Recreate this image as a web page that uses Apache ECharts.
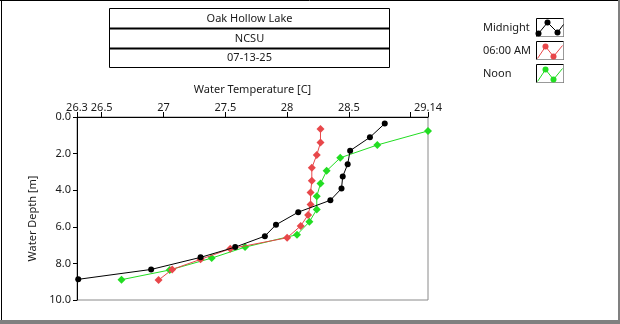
<!DOCTYPE html>
<html>
<head>
<meta charset="utf-8">
<script src="https://cdn.jsdelivr.net/npm/echarts@6/dist/echarts.min.js"></script>
<style>
html,body{margin:0;padding:0;background:#fff;}
#c{width:620px;height:324px;}
</style>
</head>
<body>
<div id="c"></div>
<script>
// ---- data ----
var titleLines = ['Oak Hollow Lake', 'NCSU', '07-13-25'];
var seriesNames = ['Midnight', '06:00 AM', 'Noon'];

var midnightTemp  = [28.79, 28.67, 28.51, 28.49, 28.45, 28.44, 28.35, 28.09, 27.91, 27.82, 27.58, 27.30, 26.90, 26.31];
var midnightDepth = [0.36, 1.11, 1.84, 2.58, 3.25, 3.91, 4.55, 5.20, 5.89, 6.51, 7.11, 7.67, 8.33, 8.87];

var sixAmTemp  = [28.27, 28.27, 28.24, 28.20, 28.20, 28.19, 28.19, 28.17, 28.11, 28.00, 27.54, 27.30, 27.07, 26.96];
var sixAmDepth = [0.65, 1.40, 2.07, 2.78, 3.49, 4.13, 4.78, 5.35, 5.95, 6.60, 7.20, 7.78, 8.33, 8.91];

var noonTemp  = [29.14, 28.73, 28.43, 28.32, 28.27, 28.24, 28.24, 28.18, 28.08, 27.66, 27.39, 27.05, 26.66];
var noonDepth = [0.76, 1.53, 2.23, 2.94, 3.64, 4.33, 5.05, 5.73, 6.43, 7.11, 7.71, 8.36, 8.89];

var tempTickValues  = [26.3, 26.5, 27, 27.5, 28, 28.5, 29, 29.14];
var tempLabelValues = [26.3, 26.5, 27, 27.5, 28, 28.5, 29.14];
var depthMin = 0, depthMax = 10, depthStep = 2;
var tempMin = 26.3, tempMax = 29.14;

// ---- build ----
function pairs(t, d) { return t.map(function (v, i) { return [v, d[i]]; }); }
var FONT = 'Noto Sans';
var FS = 11;
var colors = ['#000000', '#e8474a', '#22dd22'];
var txt = '#1a1a1a';

var chart = echarts.init(document.getElementById('c'), null, {renderer: 'canvas'});

var graphics = [];
// outer frame
graphics.push({type: 'line', shape: {x1: 1.5, y1: 0, x2: 1.5, y2: 321}, style: {stroke: '#000', lineWidth: 1}});
graphics.push({type: 'line', shape: {x1: 0, y1: 0.5, x2: 619, y2: 0.5}, style: {stroke: '#000', lineWidth: 1}});
graphics.push({type: 'rect', shape: {x: 618, y: 0, width: 2, height: 324}, style: {fill: '#808080'}});
graphics.push({type: 'rect', shape: {x: 0, y: 320, width: 620, height: 4}, style: {fill: '#808080'}});

// title boxes
var rows = [[8, 28], [28, 48], [48, 67]];
rows.forEach(function (r, i) {
  graphics.push({type: 'rect', shape: {x: 109.5, y: r[0] + 0.5, width: 280, height: r[1] - r[0]},
    style: {fill: 'none', stroke: '#000', lineWidth: 1}});
  graphics.push({type: 'text', x: 249.5, y: (r[0] + r[1]) / 2 + 0.5,
    style: {text: titleLines[i], font: FS + 'px "' + FONT + '"', fill: txt, align: 'center', verticalAlign: 'middle'}});
});
graphics.push({type: 'line', shape: {x1: 109, y1: 28.5, x2: 390, y2: 28.5}, style: {stroke: '#000', lineWidth: 2}});
graphics.push({type: 'line', shape: {x1: 109, y1: 48.5, x2: 390, y2: 48.5}, style: {stroke: '#000', lineWidth: 2}});

// legend
var legY = [28, 51, 74];
var zig = [
  [[2, 15], [11, 4], [21, 14], [27, 6]],
  [[1, 17], [9, 5], [17, 15], [26, 4]],
  [[1, 17], [9, 5], [17, 15], [26, 4]]
];
var mk = [[0, 1, 2], [1, 2], [1, 2]];
seriesNames.forEach(function (n, i) {
  graphics.push({type: 'text', x: 483, y: legY[i],
    style: {text: n, font: FS + 'px "' + FONT + '"', fill: txt, align: 'left', verticalAlign: 'middle'}});
  var bx = 536.5, by = legY[i] - 9.5;
  graphics.push({type: 'rect', shape: {x: bx, y: by, width: 27, height: 18},
    style: {fill: '#fff', stroke: '#000', lineWidth: 1}});
  graphics.push({type: 'line', shape: {x1: bx + 27, y1: by, x2: bx + 27, y2: by + 18}, style: {stroke: '#999', lineWidth: 1}});
  graphics.push({type: 'line', shape: {x1: bx, y1: by + 18, x2: bx + 27, y2: by + 18}, style: {stroke: '#999', lineWidth: 1}});
  var pts = zig[i].map(function (p) { return [bx + p[0], by + p[1]]; });
  graphics.push({type: 'polyline', shape: {points: pts}, style: {stroke: colors[i], lineWidth: 1, fill: 'none'}});
  mk[i].forEach(function (k) {
    graphics.push({type: 'circle', shape: {cx: pts[k][0], cy: pts[k][1], r: 3}, style: {fill: colors[i]}});
  });
});

var option = {
  animation: false,
  backgroundColor: '#fff',
  textStyle: {fontFamily: FONT},
  grid: {left: 77, right: 192, top: 117, bottom: 24, show: true, borderColor: '#8a8a8a', borderWidth: 1, backgroundColor: 'transparent'},
  xAxis: {
    type: 'value', position: 'top', min: tempMin, max: tempMax,
    name: 'Water Temperature [C]', nameLocation: 'middle', nameGap: 22,
    nameTextStyle: {fontSize: FS, color: txt, fontFamily: FONT},
    axisLine: {show: true, lineStyle: {color: '#000', width: 1}},
    axisTick: {show: true, length: 5, lineStyle: {color: '#000'}, customValues: tempTickValues},
    axisLabel: {show: true, fontSize: FS, color: txt, margin: 4, customValues: tempLabelValues,
      formatter: function (v) { return String(Math.round(v * 100) / 100); }},
    splitLine: {show: false}
  },
  yAxis: {
    type: 'value', inverse: true, min: depthMin, max: depthMax, interval: depthStep,
    name: 'Water Depth [m]', nameLocation: 'middle', nameGap: 29, nameRotate: 90,
    nameTextStyle: {fontSize: FS, color: txt, fontFamily: FONT, padding: [0, 20, 0, 0]},
    axisLine: {show: true, lineStyle: {color: '#000', width: 1}},
    axisTick: {show: true, length: 4, lineStyle: {color: '#000'}},
    axisLabel: {fontSize: FS, color: txt, margin: 6, formatter: function (v) { return v.toFixed(1); }},
    splitLine: {show: false}
  },
  series: [
    {name: seriesNames[0], type: 'line', data: pairs(midnightTemp, midnightDepth), clip: true,
      symbol: 'circle', symbolSize: 6, itemStyle: {color: colors[0]}, lineStyle: {color: colors[0], width: 1}, z: 4},
    {name: seriesNames[1], type: 'line', data: pairs(sixAmTemp, sixAmDepth), clip: true,
      symbol: 'diamond', symbolSize: 8, itemStyle: {color: colors[1]}, lineStyle: {color: colors[1], width: 1}, z: 3},
    {name: seriesNames[2], type: 'line', data: pairs(noonTemp, noonDepth), clip: true,
      symbol: 'diamond', symbolSize: 8, itemStyle: {color: colors[2]}, lineStyle: {color: colors[2], width: 1}, z: 2}
  ],
  graphic: graphics
};
chart.setOption(option);
</script>
</body>
</html>
